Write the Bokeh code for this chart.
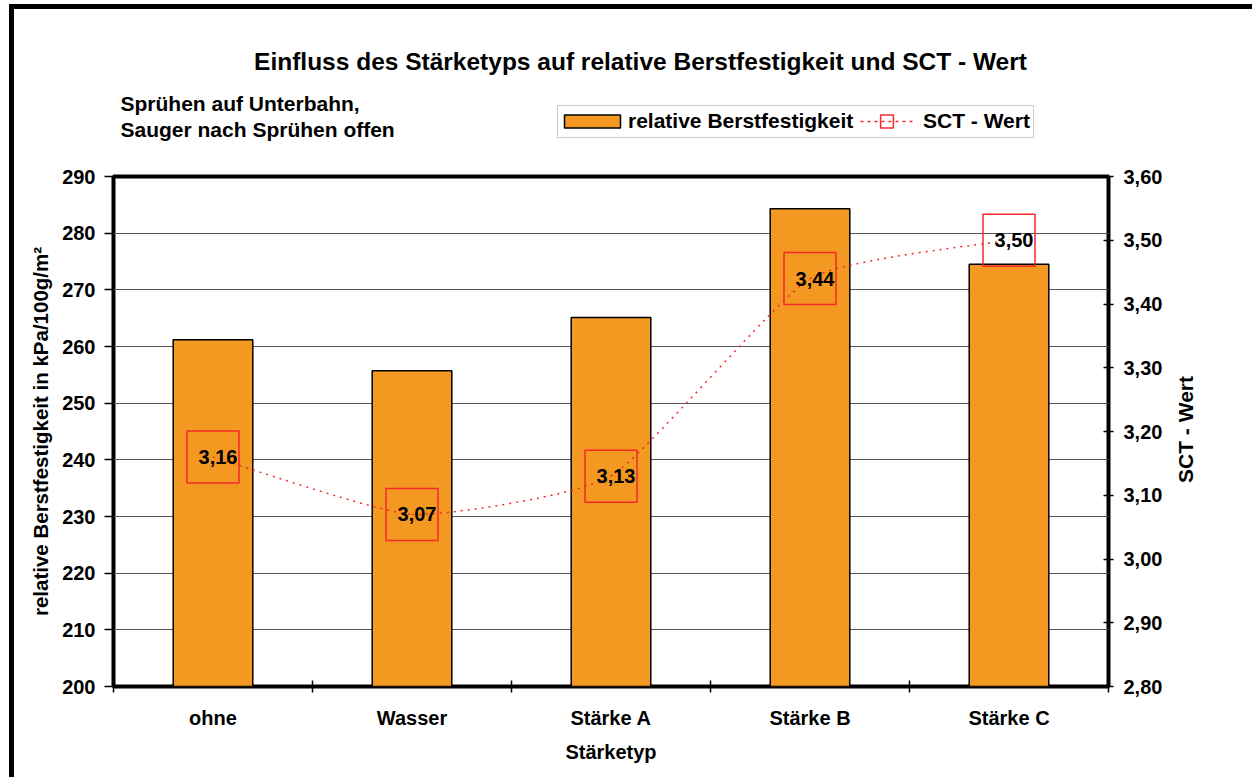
import math
import numpy as np
from bokeh.plotting import figure
from bokeh.layouts import column, row
from bokeh.models import (Range1d, LinearAxis, FixedTicker, CustomJSTickFormatter,
                          Label, Legend, LegendItem, BoxAnnotation)
from bokeh.core.properties import value
from bokeh.embed import file_html
from bokeh.resources import INLINE

# ---------------- data ----------------
categories = ["ohne", "Wasser", "Stärke A", "Stärke B", "Stärke C"]
berstfestigkeit = [261.2, 255.7, 265.1, 284.3, 274.5]
sct_wert = [3.16, 3.07, 3.13, 3.44, 3.50]
sct_labels = ["3,16", "3,07", "3,13", "3,44", "3,50"]
left_ticks = [200, 210, 220, 230, 240, 250, 260, 270, 280, 290]
right_ticks = [2.80, 2.90, 3.00, 3.10, 3.20, 3.30, 3.40, 3.50, 3.60]

title_text = "Einfluss des Stärketyps auf relative Berstfestigkeit und SCT - Wert"
subtitle_lines = ["Sprühen auf Unterbahn,", "Sauger nach Sprühen offen"]
legend_labels = ["relative Berstfestigkeit", "SCT - Wert"]
x_title = "Stärketyp"
y_title = "relative Berstfestigkeit in kPa/100g/m²"
y2_title = "SCT - Wert"

FONT = "Liberation Sans"
ORANGE = "#F39820"
RED = "#F42A2A"

# ---------------- layout sizes (px) ----------------
W = 1238                 # total width inside the outer border
W_MAIN = 1156            # main chart canvas width
W_SIDE = W - W_MAIN      # strip holding the right axis title
H_TOP = 153
H_MAIN = 615
M_LEFT = 99              # plot area left edge inside canvas
M_RIGHT_TOP = 144        # header: frame right margin (aligns with plot area)
M_RIGHT_MAIN = 62
M_TOP_MAIN = 14
M_BOTTOM_MAIN = 91


def blank_fig(width, height, **kw):
    f = figure(width=width, height=height, output_backend="svg", toolbar_location=None,
               x_range=Range1d(0, 1), y_range=Range1d(0, 1),
               x_axis_location=None, y_axis_location=None, **kw)
    f.grid.visible = False
    f.outline_line_color = None
    f.background_fill_color = "white"
    f.border_fill_color = "white"
    return f


# ================= header (title, subtitle, legend) =================
pt = blank_fig(W, H_TOP, min_border_left=M_LEFT, min_border_right=M_RIGHT_TOP,
               min_border_top=0, min_border_bottom=0)

pt.add_layout(Label(x=527, y=101, x_units="screen", y_units="screen", text=title_text,
                    text_align="center", text_baseline="middle", text_font=FONT,
                    text_font_style="bold", text_font_size="24.5px", text_color="black"))
for k, line in enumerate(subtitle_lines):
    pt.add_layout(Label(x=7, y=59 - 26 * k, x_units="screen", y_units="screen", text=line,
                        text_align="left", text_baseline="middle", text_font=FONT,
                        text_font_style="bold", text_font_size="21px", text_color="black"))

# legend box
pt.add_layout(BoxAnnotation(left=444, right=920, bottom=25, top=57,
                            left_units="screen", right_units="screen",
                            top_units="screen", bottom_units="screen",
                            fill_color="white", fill_alpha=1,
                            line_color="#555555", line_width=1))

# renderers that only feed the legend glyphs
nan = float("nan")
leg_bar = pt.vbar(x=[nan], top=[nan], bottom=0, width=1, fill_color=ORANGE,
                  line_color="black", line_width=1.5)
leg_line = pt.line(x=[nan], y=[nan], line_color=RED, line_width=1.5, line_dash="3 4")
leg_mark = pt.scatter(x=[nan], y=[nan], marker="square", size=12, fill_color=None,
                      line_color=RED, line_width=1.5)

common = dict(orientation="horizontal", padding=0, spacing=0, margin=0,
              label_text_font=FONT, label_text_font_style="bold",
              label_text_font_size="21px", label_text_color="black",
              border_line_color=None, background_fill_alpha=0)
leg1 = Legend(items=[LegendItem(label=legend_labels[0], renderers=[leg_bar])],
              location=(444, 29), glyph_width=70, glyph_height=16, label_height=24,
              label_standoff=1, **common)
leg2 = Legend(items=[LegendItem(label=legend_labels[1], renderers=[leg_line, leg_mark])],
              location=(747, 25), glyph_width=53, glyph_height=32, label_height=24,
              label_standoff=10, **common)
pt.add_layout(leg1, "center")
pt.add_layout(leg2, "center")

# ================= main chart =================
xs = list(range(len(categories)))

p = figure(width=W_MAIN, height=H_MAIN, output_backend="svg", toolbar_location=None,
           x_range=Range1d(-0.5, len(categories) - 0.5),
           y_range=Range1d(left_ticks[0], left_ticks[-1]),
           min_border_left=M_LEFT, min_border_right=M_RIGHT_MAIN,
           min_border_top=M_TOP_MAIN, min_border_bottom=M_BOTTOM_MAIN)
p.extra_y_ranges = {"sct": Range1d(right_ticks[0], right_ticks[-1])}
p.background_fill_color = "white"
p.border_fill_color = "white"
p.outline_line_color = "black"
p.outline_line_width = 4

p.xgrid.grid_line_color = None
p.ygrid.ticker = FixedTicker(ticks=left_ticks)
p.ygrid.grid_line_color = "#555555"
p.ygrid.grid_line_width = 1

xa = p.xaxis[0]
xa.ticker = FixedTicker(ticks=xs, minor_ticks=[i - 0.5 for i in range(len(categories) + 1)])
xa.major_label_overrides = {i: c for i, c in enumerate(categories)}
xa.major_tick_in = 0
xa.major_tick_out = 0
xa.minor_tick_in = 6
xa.minor_tick_out = 6
xa.minor_tick_line_color = "black"
xa.minor_tick_line_width = 1.5
xa.major_label_standoff = 14
xa.axis_label = x_title
xa.axis_label_standoff = 9

ya = p.yaxis[0]
ya.ticker = FixedTicker(ticks=left_ticks)
ya.major_tick_in = 0
ya.major_tick_out = 9
ya.minor_tick_line_color = None
ya.major_label_standoff = 9
ya.axis_label = y_title
ya.axis_label_standoff = 7

ra = LinearAxis(y_range_name="sct", ticker=FixedTicker(ticks=right_ticks),
                formatter=CustomJSTickFormatter(code="return tick.toFixed(2).replace('.', ',');"))
ra.major_tick_in = 5
ra.major_tick_out = 5
ra.minor_tick_line_color = None
ra.major_label_standoff = 10
p.add_layout(ra, "right")

for ax in [xa, ya, ra]:
    ax.major_label_text_font = FONT
    ax.major_label_text_font_style = "bold"
    ax.major_label_text_font_size = "20px"
    ax.major_label_text_color = "black"
    ax.axis_label_text_font = FONT
    ax.axis_label_text_font_style = "bold"
    ax.axis_label_text_font_size = "20px"
    ax.axis_label_text_color = "black"
    ax.major_tick_line_color = "black"
    ax.major_tick_line_width = 1.5
    ax.axis_line_color = None
ya.axis_label_text_font_size = "20.5px"

bars = p.vbar(x=xs, top=berstfestigkeit, bottom=left_ticks[0], width=0.4,
              fill_color=ORANGE, line_color="black", line_width=1.5)

# lightly smoothed SCT line (bezier through the data points)
P = np.column_stack([np.array(xs, dtype=float), np.array(sct_wert)])
n = len(P)
x0, y0, x1, y1, cx0, cy0, cx1, cy1 = ([] for _ in range(8))
for i in range(n - 1):
    pm1 = P[max(i - 1, 0)]
    pa = P[i]
    pb = P[i + 1]
    pp = P[min(i + 2, n - 1)]
    c0 = pa + (pb - pm1) / 12.0
    c1 = pb - (pp - pa) / 12.0
    x0.append(pa[0]); y0.append(pa[1]); x1.append(pb[0]); y1.append(pb[1])
    cx0.append(c0[0]); cy0.append(c0[1]); cx1.append(c1[0]); cy1.append(c1[1])
p.bezier(x0=x0, y0=y0, x1=x1, y1=y1, cx0=cx0, cy0=cy0, cx1=cx1, cy1=cy1,
         line_color=RED, line_width=1.5, line_dash="2 5", y_range_name="sct")

p.scatter(x=xs, y=sct_wert, marker="square", size=52, fill_color=None,
          line_color=RED, line_width=1.5, y_range_name="sct")
p.text(x=xs, y=sct_wert, text=sct_labels, x_offset=5, text_align="center",
       text_baseline="middle", text_font=value(FONT), text_font_style="bold",
       text_font_size="20px", text_color="black", y_range_name="sct")

# ================= strip with the right axis title =================
ps = blank_fig(W_SIDE, H_MAIN, min_border_left=0, min_border_right=0,
               min_border_top=M_TOP_MAIN, min_border_bottom=M_BOTTOM_MAIN)
ps.add_layout(Label(x=14.5, y=(H_MAIN - M_TOP_MAIN - M_BOTTOM_MAIN) / 2 + 2,
                    x_units="screen", y_units="screen", text=y2_title, angle=math.pi / 2,
                    text_align="center", text_baseline="middle", text_font=FONT,
                    text_font_style="bold", text_font_size="21px", text_color="black"))

layout = column(pt, row(p, ps, spacing=0), spacing=0,
                styles={"margin-left": "9px", "margin-top": "4px",
                        "border-left": "5px solid black", "border-top": "5px solid black"})

open("out.html", "w").write(file_html(layout, INLINE))
